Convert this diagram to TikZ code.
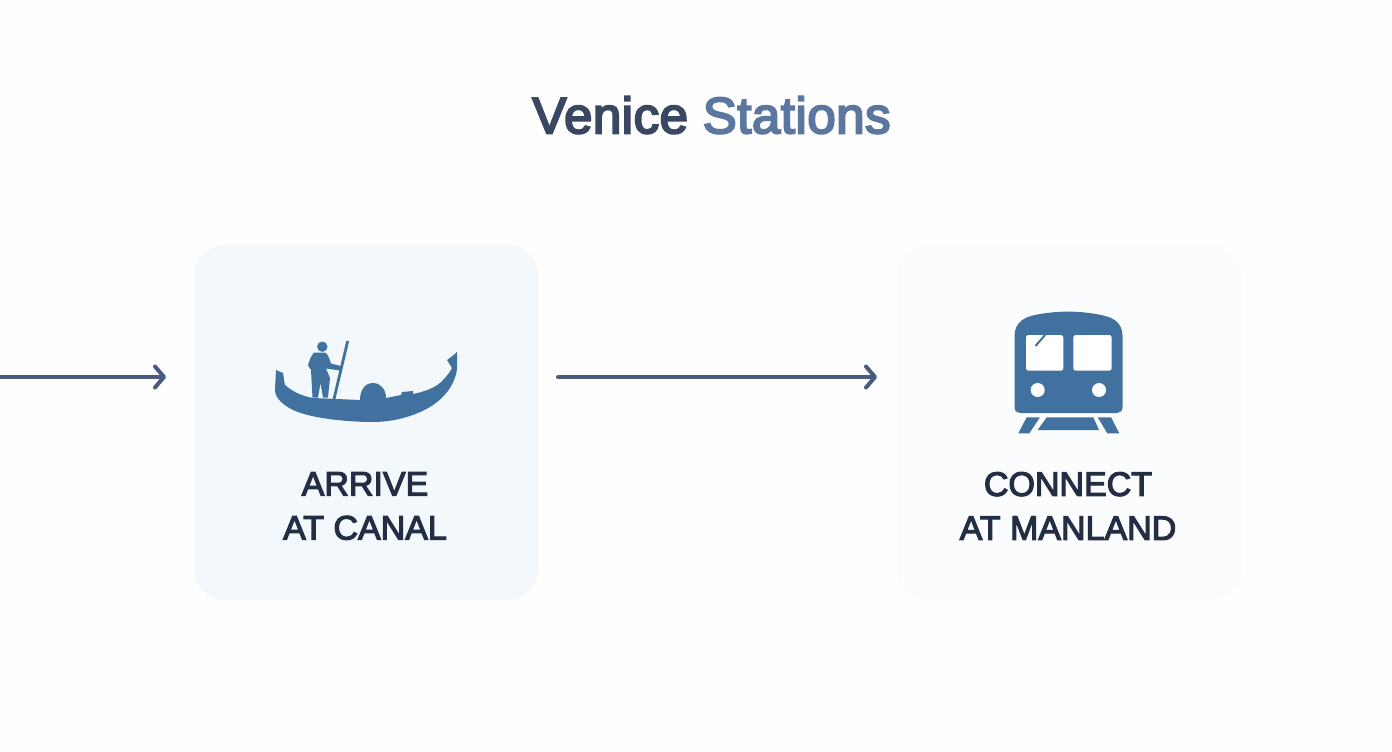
\documentclass[tikz,border=0pt]{standalone}
\usepackage{fontspec}
\setmainfont{Liberation Sans}
\newfontfamily\semifont[FakeBold=3.5]{Liberation Sans}
\newfontfamily\titlefont[FakeBold=4,LetterSpace=1]{Liberation Sans}
\usetikzlibrary{arrows.meta}
\definecolor{bgc}{HTML}{FEFEFE}
\definecolor{cardA}{HTML}{F3F8FC}
\definecolor{cardB}{HTML}{FAFCFD}
\definecolor{icon}{HTML}{41719F}
\definecolor{linec}{HTML}{4A5A7E}
\definecolor{titleA}{HTML}{3A4763}
\definecolor{titleB}{HTML}{5C779F}
\definecolor{labelc}{HTML}{232E45}
\tikzset{
  card/.style={draw=none,rounded corners=30pt,minimum width=344pt,minimum height=355pt,inner sep=0pt,outer sep=0pt},
  cardlabel/.style={text=labelc,font=\fontsize{34}{44}\selectfont\semifont,align=center,inner sep=0pt},
  flow/.style={draw=linec,line width=4pt,line cap=round,-{Straight Barb[length=9pt,width=21pt,line width=4pt,round]}},
  glyph/.style={fill=icon,draw=none},
  hole/.style={fill=white,draw=none}
}
\begin{document}
\begin{tikzpicture}[x=1pt,y=-1pt]
\useasboundingbox (0,0) rectangle (1392,752);
\fill[bgc] (0,0) rectangle (1392,752);
\node[card,fill=cardA] (arrive) at (366,422.5) {};
\node[card,fill=cardB] (connect) at (1069,422.5) {};
\node[font=\fontsize{51}{58}\selectfont\titlefont,inner sep=0pt,anchor=center] (title) at (711.5,115) {\textcolor{titleA}{Venice} \textcolor{titleB}{Stations}};
\node[cardlabel] (arrivetxt) at (365,506) {ARRIVE\\AT CANAL};
\node[cardlabel] (connecttxt) at (1068,506) {CONNECT\\AT MANLAND};
\coordinate (start) at (0,377);
\coordinate (arrivein) at (arrive.west |- start);
\coordinate (arriveout) at (arrive.east |- start);
\coordinate (connectin) at (connect.west |- start);
\draw[flow,shorten >=28pt] (start) -- (arrivein);
\draw[flow,shorten <=20pt,shorten >=20pt] (arriveout) -- (connectin);
% gondola
\fill[glyph] (276,370) -- (283,373) .. controls (284,378) and (284,382) .. (285,385)
  .. controls (293,392) and (302,396) .. (313,398) -- (360,400)
  .. controls (360,390) and (365,383) .. (373,383) .. controls (381,383) and (386,390) .. (386,398)
  -- (401,395) -- (402,392) -- (413,391) -- (413,394)
  .. controls (428,391) and (438,386) .. (443,380) .. controls (447,376) and (450,372) .. (452,368)
  -- (447,360) .. controls (450,358) and (454,355) .. (457,352) -- (457,369)
  .. controls (456,380) and (448,394) .. (437,402) .. controls (425,412) and (400,422) .. (373,422)
  .. controls (345,422) and (310,418) .. (293,410) .. controls (283,405) and (275,398) .. (275,390) -- cycle;
\fill[glyph] (322.3,346.7) circle[radius=5.2];
\fill[glyph] (314,352.5) .. controls (311,356) and (309,361) .. (308,365.5) -- (311,370) -- (312.5,397.5) -- (318,397.5)
  -- (320.5,383) -- (323,397.5) -- (328,397.5) -- (330,378) -- (326,368.5) -- (340,370.5) -- (343,366.5) -- (331,363.5)
  .. controls (329,358) and (328,354) .. (325,352.5) -- cycle;
\draw[icon,line width=2.8pt] (347.7,341) -- (334,399);
% train
\fill[glyph] (1014.5,336) .. controls (1014.5,322) and (1025,317) .. (1035,315)
  .. controls (1057,310.5) and (1079,310.5) .. (1101,315)
  .. controls (1112,317) and (1122.5,322) .. (1122.5,336)
  -- (1122.5,407) .. controls (1122.5,411) and (1120,413) .. (1117,413)
  -- (1020,413) .. controls (1017,413) and (1014.5,411) .. (1014.5,407) -- cycle;
\fill[hole,rounded corners=2.5pt] (1026,335) rectangle (1063.3,370.7);
\fill[hole,rounded corners=2.5pt] (1073.3,335) rectangle (1111.7,370.7);
\draw[icon,line width=2pt] (1045,335) -- (1035.5,346);
\fill[hole] (1037.7,390) circle[radius=7];
\fill[hole] (1099,390) circle[radius=7];
\fill[glyph] (1026.7,417.3) -- (1040,417.3) -- (1029.3,433.3) -- (1018.3,433.3) -- cycle;
\fill[glyph] (1046.7,417.3) -- (1093.3,417.3) -- (1099,430) -- (1037.7,430) -- cycle;
\fill[glyph] (1097.7,417.3) -- (1111,417.3) -- (1119.3,433.3) -- (1107.3,433.3) -- cycle;
\end{tikzpicture}
\end{document}
